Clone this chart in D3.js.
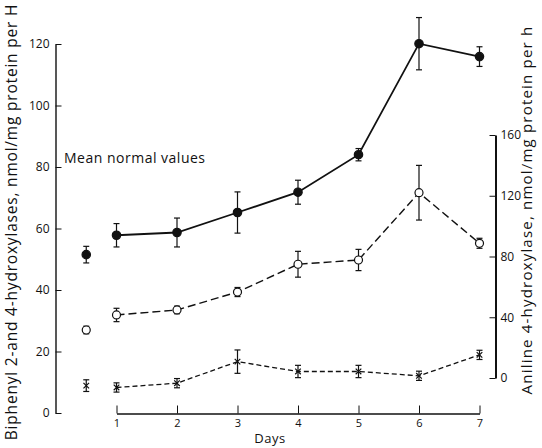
<!DOCTYPE html>
<html>
<head>
<meta charset="utf-8">
<script src="https://cdn.jsdelivr.net/npm/d3@7"></script>
<style>
  html, body { margin: 0; padding: 0; background: #fff; }
  svg { display: block; }
  text { font-family: "Open Sans", "DejaVu Sans", sans-serif; fill: #111; }
</style>
</head>
<body>
<svg id="chart" width="542" height="448"></svg>
<script>
// ---- data ----
const days = [1, 2, 3, 4, 5, 6, 7];
const normalDay = 0.5; // position of "mean normal values" column

// Biphenyl 4-hydroxylase (filled circles, left axis)
const filledMean = [57.8, 58.7, 65.2, 71.8, 84.0, 120.1, 115.9];
const filledErr  = [3.8, 4.7, 6.7, 3.9, 2.0, 8.5, 3.2];
const filledNormal = 51.5, filledNormalErr = 2.7;

// Aniline 4-hydroxylase (open circles, right axis)
const openMean = [41.5, 44.8, 56.6, 74.9, 77.7, 122.0, 88.7];
const openErr  = [4.4, 2.5, 3.0, 8.5, 7.0, 18.0, 3.3];
const openNormal = 31.6, openNormalErr = 2.5;

// Biphenyl 2-hydroxylase (crosses, left axis)
const crossMean = [8.3, 9.7, 16.7, 13.5, 13.5, 12.1, 18.9];
const crossErr  = [1.5, 1.5, 3.8, 2.0, 2.0, 1.5, 1.5];
const crossNormal = 8.9, crossNormalErr = 1.9;

const leftTicks = [0, 20, 40, 60, 80, 100, 120];
const rightTicks = [0, 40, 80, 120, 160];
const dayTicks = [1, 2, 3, 4, 5, 6, 7];

// ---- scales ----
const svg = d3.select("#chart");
const x = d3.scaleLinear().domain([1, 7]).range([116.5, 479.5]);
const yL = d3.scaleLinear().domain([0, 120]).range([413, 44]);
const yR = d3.scaleLinear().domain([0, 160]).range([378, 135]);

// ---- axes ----
const axL = svg.append("g").attr("transform", "translate(55.5,0)")
  .call(d3.axisLeft(yL).tickValues(leftTicks).tickFormat(d3.format("d"))
    .tickSizeInner(-6).tickSizeOuter(0).tickPadding(6));
const axR = svg.append("g").attr("transform", "translate(495.5,0)")
  .call(d3.axisRight(yR).tickValues(rightTicks).tickFormat(d3.format("d"))
    .tickSizeInner(-6).tickSizeOuter(0).tickPadding(5));
const axB = svg.append("g").attr("transform", "translate(0,413.5)")
  .call(d3.axisBottom(x).tickValues(dayTicks).tickFormat(d3.format("d"))
    .tickSizeInner(-8).tickSizeOuter(0).tickPadding(6));

[axL, axR, axB].forEach(a => {
  a.select(".domain").attr("stroke", "#111").attr("stroke-width", 1.4);
  a.selectAll(".tick line").attr("stroke", "#111").attr("stroke-width", 1);
  a.selectAll(".tick text").style("font-family", "'Open Sans', 'DejaVu Sans', sans-serif")
    .style("font-size", "12px").attr("fill", "#222");
});
axR.select(".domain").attr("stroke-width", 2);
axB.selectAll(".tick text").style("font-size", "11px");

// axis titles
svg.append("text")
  .attr("transform", "translate(17,222) rotate(-90)")
  .attr("text-anchor", "middle")
  .style("font-size", "15.5px")
  .style("letter-spacing", "0.8px")
  .text("Biphenyl 2-and 4-hydroxylases,  nmol/mg protein per H");
svg.append("text")
  .attr("transform", "translate(532,210) rotate(-90)")
  .attr("text-anchor", "middle")
  .style("font-size", "15px")
  .style("letter-spacing", "1.2px")
  .text("Aniline 4-hydroxylase,  nmol/mg protein per h");
svg.append("text")
  .attr("x", 270).attr("y", 443)
  .attr("text-anchor", "middle")
  .style("font-size", "13px")
  .style("letter-spacing", "0.5px")
  .text("Days");
svg.append("text")
  .attr("x", 64).attr("y", 163)
  .style("font-size", "14px")
  .style("letter-spacing", "0.5px")
  .text("Mean normal values");

// ---- helpers ----
function errBars(g, xs, ys, es, yScale) {
  xs.forEach((d, i) => {
    const cx = x(d), top = yScale(ys[i] + es[i]), bot = yScale(ys[i] - es[i]);
    g.append("line").attr("x1", cx).attr("x2", cx).attr("y1", top).attr("y2", bot);
    g.append("line").attr("x1", cx - 3).attr("x2", cx + 3).attr("y1", top).attr("y2", top);
    g.append("line").attr("x1", cx - 3).attr("x2", cx + 3).attr("y1", bot).attr("y2", bot);
  });
}

function series(opts) {
  const g = svg.append("g");
  const eg = g.append("g").attr("stroke", "#111").attr("stroke-width", 1.2);
  errBars(eg, days, opts.mean, opts.err, opts.y);
  errBars(eg, [normalDay], [opts.normal], [opts.normalErr], opts.y);
  const line = d3.line().x((d, i) => x(days[i])).y(d => opts.y(d));
  g.append("path").datum(opts.mean)
    .attr("d", line).attr("fill", "none").attr("stroke", "#111")
    .attr("stroke-width", opts.width).attr("stroke-dasharray", opts.dash);
  const pts = days.map((d, i) => [d, opts.mean[i]]).concat([[normalDay, opts.normal]]);
  if (opts.marker === "filled" || opts.marker === "open") {
    g.selectAll("circle.m").data(pts).enter().append("circle")
      .attr("cx", d => x(d[0])).attr("cy", d => opts.y(d[1]))
      .attr("r", opts.marker === "filled" ? 4.2 : 4)
      .attr("fill", opts.marker === "filled" ? "#111" : "#fff")
      .attr("stroke", "#111").attr("stroke-width", 1.2);
  } else {
    pts.forEach(d => {
      const cx = x(d[0]), cy = opts.y(d[1]), s = 2.8;
      g.append("path")
        .attr("d", `M${cx - s},${cy - s}L${cx + s},${cy + s}M${cx - s},${cy + s}L${cx + s},${cy - s}`)
        .attr("stroke", "#111").attr("stroke-width", 1.2).attr("fill", "none");
    });
  }
}

series({ mean: crossMean, err: crossErr, normal: crossNormal, normalErr: crossNormalErr,
  y: yL, marker: "cross", dash: "5,3", width: 1.3 });
series({ mean: openMean, err: openErr, normal: openNormal, normalErr: openNormalErr,
  y: yR, marker: "open", dash: "8,4", width: 1.4 });
series({ mean: filledMean, err: filledErr, normal: filledNormal, normalErr: filledNormalErr,
  y: yL, marker: "filled", dash: null, width: 1.8 });
</script>
</body>
</html>
